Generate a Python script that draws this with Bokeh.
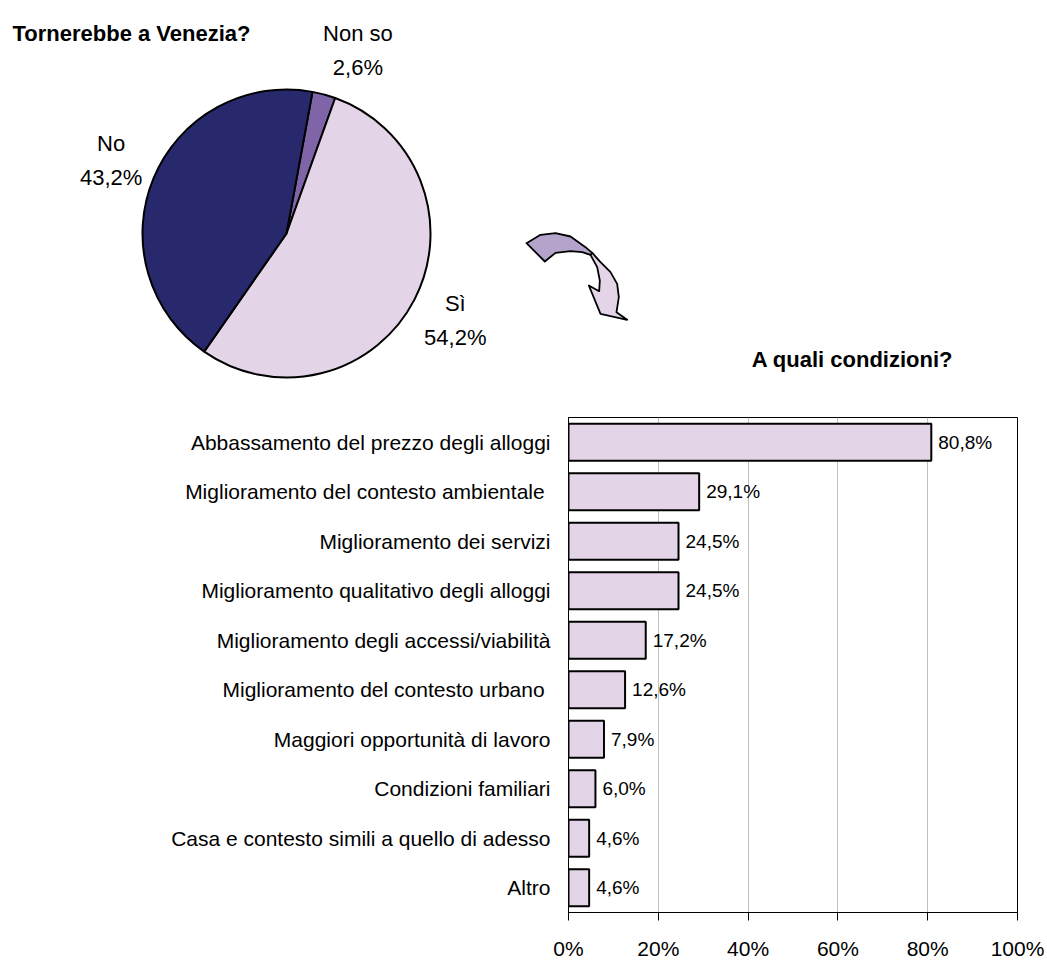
import math
from bokeh.plotting import figure
from bokeh.layouts import column, row
from bokeh.models import Range1d, FactorRange, FixedTicker, PrintfTickFormatter, ColumnDataSource
from bokeh.core.properties import value
from bokeh.embed import file_html
from bokeh.resources import INLINE

# ---------------- data ----------------
pie_labels = ["Non so", "Sì", "No"]
pie_values = [2.6, 54.2, 43.2]

categories = [
    "Abbassamento del prezzo degli alloggi",
    "Miglioramento del contesto ambientale ",
    "Miglioramento dei servizi",
    "Miglioramento qualitativo degli alloggi",
    "Miglioramento degli accessi/viabilità",
    "Miglioramento del contesto urbano ",
    "Maggiori opportunità di lavoro",
    "Condizioni familiari",
    "Casa e contesto simili a quello di adesso",
    "Altro",
]
bar_values = [80.8, 29.1, 24.5, 24.5, 17.2, 12.6, 7.9, 6.0, 4.6, 4.6]
x_ticks = [0, 20, 40, 60, 80, 100]

pie_title = "Tornerebbe a Venezia?"
bar_title = "A quali condizioni?"

# ---------------- styles ----------------
FONT = "Liberation Sans Narrow, Arial Narrow, Liberation Sans, Arial, sans-serif"
pie_colors = ["#8064A8", "#E4D4E8", "#28286C"]
BAR_FILL = "#E4D4E8"


def fmt(v):
    return f"{v:.1f}".replace(".", ",") + "%"


# ---------------- pie ----------------
H = 965  # page height: the pie panel's data y = H - page y
pie = figure(width=520, height=400, x_range=Range1d(0, 520), y_range=Range1d(H - 400, H),
             output_backend="svg", toolbar_location=None, min_border=0)
pie.axis.visible = False
pie.grid.visible = False
pie.outline_line_color = None

cx, cy, R = 286, H - 233, 144
start_deg = 10.4
total = sum(pie_values)
starts, ends, mids = [], [], []
acc = start_deg
for v in pie_values:
    a0 = acc
    a1 = acc + v / total * 360.0
    starts.append(math.radians(90 - a0))
    ends.append(math.radians(90 - a1))
    mids.append((a0 + a1) / 2.0)
    acc = a1

pie.wedge(x=cx, y=cy, radius=R, start_angle=starts, end_angle=ends, direction="clock",
          fill_color=pie_colors, line_color="black", line_width=2)

label_r = 190
nudge = {"Non so": 22}
lx, ly, names, pcts = [], [], [], []
for lab, v, m in zip(pie_labels, pie_values, mids):
    lx.append(cx + label_r * math.sin(math.radians(m)) + nudge.get(lab, 0))
    ly.append(cy + label_r * math.cos(math.radians(m)))
    names.append(lab)
    pcts.append(fmt(v))

pie.text(x=lx, y=[y + 17 for y in ly], text=names, text_align="center", text_baseline="middle",
         text_font=value(FONT), text_font_size="22px", text_color="black")
pie.text(x=lx, y=[y - 17 for y in ly], text=pcts, text_align="center", text_baseline="middle",
         text_font=value(FONT), text_font_size="22px", text_color="black")
pie.text(x=[12], y=[H - 33], text=[pie_title], text_align="left", text_baseline="alphabetic",
         text_font=value(FONT), text_font_size="22px", text_font_style="bold", text_color="black")

# ---------------- decoration panel (arrow + second title) ----------------
deco = figure(width=527, height=400, x_range=Range1d(520, 1047), y_range=Range1d(400, 0),
              output_backend="svg", toolbar_location=None, min_border=0)
deco.axis.visible = False
deco.grid.visible = False
deco.outline_line_color = None

# arrow outline (decorative shape), relative to origin (500, 200) on a 1/3 scale
tail = [(78, 128), (120, 103), (165, 98), (210, 108), (255, 140), (276, 158), (270, 163),
        (245, 155), (210, 152), (165, 157), (133, 183)]
head = [(276, 158), (300, 185), (330, 215), (350, 250), (355, 290), (348, 335), (380, 358),
        (300, 340), (265, 255), (296, 272), (298, 240), (290, 200), (270, 163)]


def tx(pts):
    return [500 + p[0] / 3 for p in pts], [200 + p[1] / 3 for p in pts]


txs, tys = tx(tail)
hxs, hys = tx(head)
deco.patch(txs, tys, fill_color="#B4A4CC", line_color="black", line_width=1.8, line_join="round")
deco.patch(hxs, hys, fill_color="#E4D4E8", line_color="black", line_width=1.8, line_join="round")
deco.text(x=[852], y=[359], text=[bar_title], text_align="center", text_baseline="alphabetic",
          text_font=value(FONT), text_font_size="22px", text_font_style="bold", text_color="black")

# ---------------- bar chart ----------------
src = ColumnDataSource(dict(cat=categories, val=bar_values, lab=[fmt(v) for v in bar_values]))
bar = figure(width=1047, height=564, y_range=FactorRange(*reversed(categories)), x_range=Range1d(0, 100),
             output_backend="svg", toolbar_location=None,
             min_border_left=568, min_border_right=30, min_border_top=17, min_border_bottom=52)
bar.hbar(y="cat", left=0, right="val", height=0.75, source=src, fill_color=BAR_FILL,
         line_color="black", line_width=2)
bar.text(x="val", y="cat", text="lab", source=src, x_offset=7, text_align="left", text_baseline="middle",
         text_font=value(FONT), text_font_size="19px", text_color="black")

bar.xaxis.ticker = FixedTicker(ticks=x_ticks)
bar.xaxis.formatter = PrintfTickFormatter(format="%d%%")
bar.xaxis.major_tick_out = 8
bar.xaxis.major_tick_in = 0
bar.xaxis.minor_tick_line_color = None
bar.xaxis.axis_line_color = "black"
bar.xaxis.major_tick_line_color = "black"
bar.xaxis.major_label_standoff = 16
bar.xaxis.major_label_text_font = FONT
bar.xaxis.major_label_text_font_size = "21px"
bar.xaxis.major_label_text_color = "black"

bar.yaxis.major_tick_out = 0
bar.yaxis.major_tick_in = 0
bar.yaxis.minor_tick_line_color = None
bar.yaxis.axis_line_color = "black"
bar.yaxis.major_label_standoff = 18
bar.yaxis.major_label_text_font = FONT
bar.yaxis.major_label_text_font_size = "21px"
bar.yaxis.major_label_text_color = "black"

bar.xgrid.grid_line_color = "#C0C0C0"
bar.ygrid.grid_line_color = None
bar.outline_line_color = "black"
bar.outline_line_width = 1

layout = column(row(pie, deco), bar)
open("out.html", "w").write(file_html(layout, INLINE))
